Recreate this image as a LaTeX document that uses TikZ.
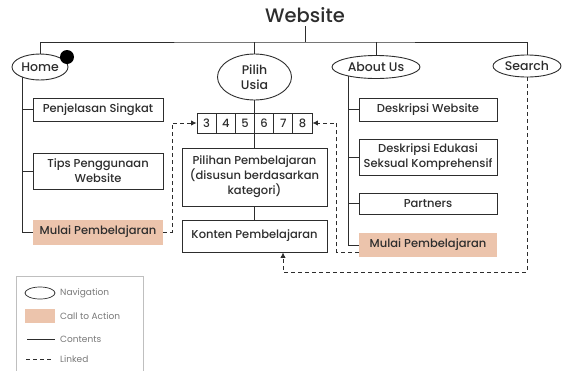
\documentclass[tikz,border=0pt]{standalone}
\usepackage{fontspec}
\setmainfont{Poppins Medium}
\newfontfamily\legendfont{Poppins}
\usetikzlibrary{arrows.meta,positioning,shapes.geometric,backgrounds}

\definecolor{cta}{RGB}{236,196,172}
\definecolor{ink}{RGB}{45,45,45}
\definecolor{legendgray}{RGB}{120,120,120}

\tikzset{
    box/.style={draw=ink, line width=0.9pt, fill=white, rectangle, inner sep=0pt,
        align=center, text=ink, font=\fontsize{11.5}{15}\selectfont},
    ctabox/.style={box, draw=none, fill=cta},
    nav/.style={draw=ink, line width=0.9pt, fill=white, ellipse, inner sep=0pt,
        align=center, text=ink, font=\fontsize{12.5}{15.5}\selectfont},
    cell/.style={box, minimum width=19.17pt, minimum height=20pt},
    tree/.style={draw=ink, line width=0.9pt},
    link/.style={draw=ink, line width=0.9pt, dash pattern=on 4pt off 3pt},
    legendtext/.style={anchor=west, inner sep=0pt, text=legendgray,
        font=\legendfont\fontsize{9}{10}\selectfont}
}

\begin{document}
\begin{tikzpicture}[x=1pt,y=-1pt]
    \useasboundingbox (0,0) rectangle (562,370);

    % titel en navigatie
    \node[text=ink, font=\fontsize{19.5}{22}\selectfont] (title) at (305,15) {Website};
    \node[nav, minimum width=56pt, minimum height=26pt] (home) at (40,67) {Home};
    \node[nav, minimum width=74pt, minimum height=46pt] (usia) at (254.5,77) {Pilih\\Usia};
    \node[nav, minimum width=88pt, minimum height=23pt] (about) at (376,67) {About Us};
    \node[nav, minimum width=68pt, minimum height=22pt] (search) at (527,66) {Search};
    \node[circle, fill=black, inner sep=0pt, minimum size=14pt] (dot) at (67,57) {};

    % Home
    \node[box, minimum width=130pt, minimum height=23pt] (pen) at (98,109.5) {Penjelasan Singkat};
    \node[box, minimum width=130pt, minimum height=36pt] (tips) at (98,171) {Tips Penggunaan\\Website};
    \node[ctabox, minimum width=130pt, minimum height=25pt] (mulL) at (98,232) {Mulai Pembelajaran};

    % Pilih Usia
    \foreach \n [count=\i] in {3,...,8}
        \node[cell] (c\n) at (197+19.17*\i-9.585,123) {\n};
    \node[box, minimum width=145pt, minimum height=58pt] (pil) at (254.5,177)
        {Pilihan Pembelajaran\\(disusun berdasarkan\\kategori)};
    \node[box, minimum width=145pt, minimum height=32pt] (kon) at (254.5,236) {Konten Pembelajaran};

    % About Us
    \node[box, minimum width=138pt, minimum height=23pt] (desw) at (428,109.5) {Deskripsi Website};
    \node[box, minimum width=138pt, minimum height=36pt] (desk) at (428,157) {Deskripsi Edukasi\\Seksual Komprehensif};
    \node[box, minimum width=138pt, minimum height=21pt] (part) at (428,203.5) {Partners};
    \node[ctabox, minimum width=138pt, minimum height=24pt] (mulR) at (428,245) {Mulai Pembelajaran};

    \coordinate (bar) at (305,42);
    \coordinate (hx) at (22,0);
    \coordinate (ax) at (348,0);
    \coordinate (lk) at (283,272);

    \begin{pgfonlayer}{background}
        \draw[tree] (title.south) -- (title.south |- bar);
        \draw[tree] (home.north) |- (bar) -| (search.north);
        \draw[tree] (usia.north) -- (usia.north |- bar);
        \draw[tree] (about.north) -- (about.north |- bar);

        \draw[tree] (home -| hx) |- (mulL.west);
        \draw[tree] (pen.west -| hx) -- (pen.west);
        \draw[tree] (tips.west -| hx) -- (tips.west);

        \draw[tree] (usia.south) -- (usia.south |- c5.north);
        \draw[tree] (pil.north |- c5.south) -- (pil.north);
        \draw[tree] (pil.south) -- (kon.north);

        \draw[tree] (about -| ax) |- (mulR.west);
        \draw[tree] (desw.west -| ax) -- (desw.west);
        \draw[tree] (desk.west -| ax) -- (desk.west);
        \draw[tree] (part.west -| ax) -- (part.west);
    \end{pgfonlayer}

    % links
    \draw[link, -{Latex[length=5.5pt,width=5.5pt]}] (mulL.east) -- ++(9,0) |- (c3.west);
    \draw[link, -{Latex[length=5.5pt,width=5.5pt]}] ([yshift=5pt]mulR.south west) -- ++(-22,0) |- (c8.east);
    \draw[link, -{Latex[length=5.5pt,width=5.5pt]}] (search.south) |- (lk) -- (lk |- kon.south);

    % legenda
    \draw[draw=black!25, line width=0.7pt] (16,276) rectangle (143,375);
    \node[nav, line width=0.7pt, minimum width=30pt, minimum height=12pt] (lnav) at (40,293) {};
    \node[legendtext] (tnav) at (60,293) {Navigation};
    \node[fill=cta, minimum width=30pt, minimum height=14pt, inner sep=0pt] (lcta) at (40,316) {};
    \node[legendtext] (tcta) at (60,316) {Call to Action};
    \coordinate (lc) at (27,339);
    \draw[ink, line width=0.7pt] (lc) -- ++(28,0) coordinate (lce);
    \node[legendtext] (tcon) at (60,339) {Contents};
    \coordinate (ll) at (26,359);
    \draw[ink, line width=0.7pt, dash pattern=on 4pt off 3pt] (ll) -- ++(26,0) coordinate (lle);
    \node[legendtext] (tlin) at (60,359) {Linked};
\end{tikzpicture}
\end{document}
